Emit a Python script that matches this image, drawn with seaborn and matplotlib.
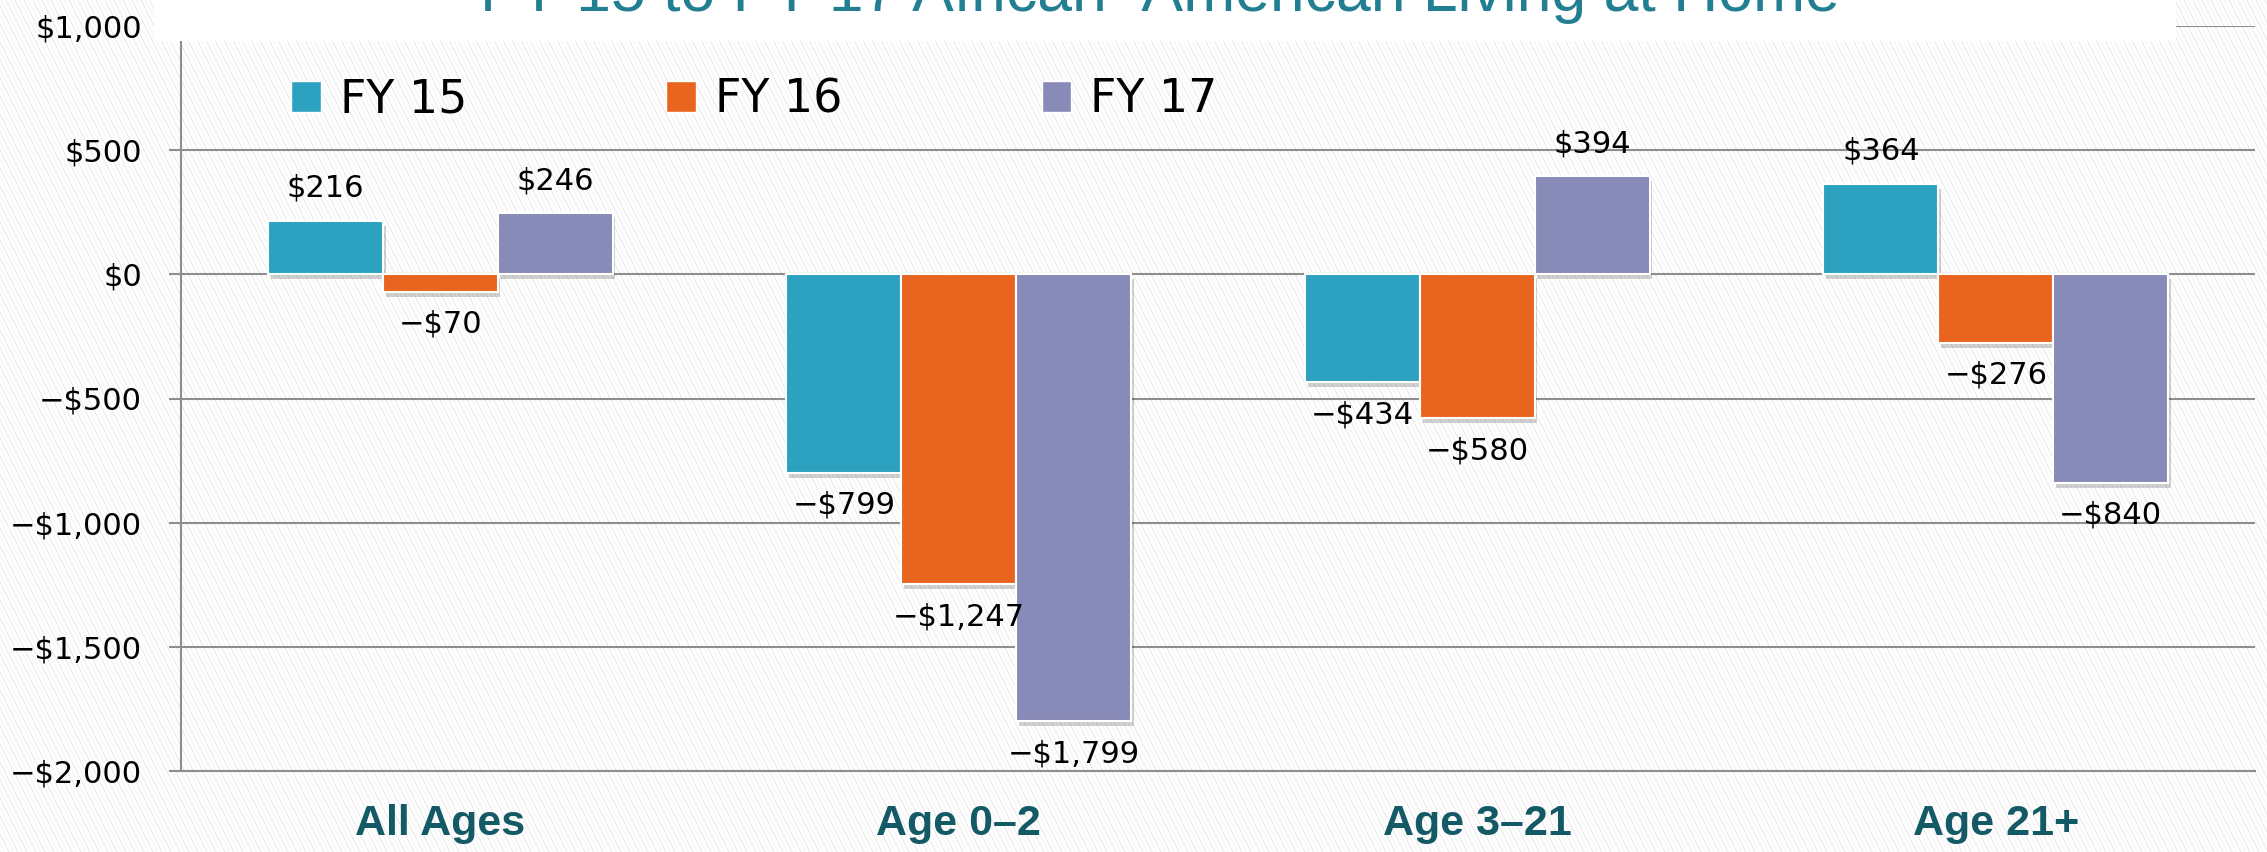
import matplotlib
matplotlib.use("Agg")
import numpy as np
import pandas as pd
import matplotlib.pyplot as plt
import seaborn as sns
from matplotlib import patheffects
from matplotlib.patches import Rectangle, Patch
from matplotlib.collections import LineCollection
from matplotlib.ticker import FuncFormatter

# data
categories = ['All Ages', 'Age 0–2', 'Age 3–21', 'Age 21+']
years = ['FY 15', 'FY 16', 'FY 17']
fy15 = [216, -799, -434, 364]
fy16 = [-70, -1247, -580, -276]
fy17 = [246, -1799, 394, -840]
y_ticks = [1000, 500, 0, -500, -1000, -1500, -2000]
title = 'FY 15 to FY 17 African- American Living at Home'

colors = ['#2CA2C0', '#E9651F', '#888AB7']

df = pd.DataFrame({
    'category': categories * 3,
    'year': [y for y in years for _ in categories],
    'value': fy15 + fy16 + fy17,
})


def money(v):
    if v < 0:
        return f'−${abs(v):,.0f}'
    return f'${v:,.0f}'


sns.set_style('white')
plt.rcParams['font.family'] = ['DejaVu Sans']

W, H = 2267, 852
fig = plt.figure(figsize=(W / 100, H / 100), dpi=100)
fig.patch.set_facecolor('white')

# faint diagonal hatch background
bg = fig.add_axes([0, 0, 1, 1], zorder=0)
bg.set_xlim(0, W)
bg.set_ylim(0, H)
bg.axis('off')
starts = np.arange(-H * 0.5, W + 10, 9)
bg.add_collection(LineCollection([[(x, H), (x + 0.5 * H, 0)] for x in starts],
                                 colors='#E8E8E8', linewidths=0.7))
bg.add_collection(LineCollection([[(x + 4.5, H), (x + 4.5 + 0.5 * H, 0)] for x in starts],
                                 colors='#F4F4F4', linewidths=0.7))

# main chart
ax = fig.add_axes([181 / W, 1 - 771 / H, 2074 / W, 745 / H], zorder=1)
ax.patch.set_alpha(0)
sns.barplot(data=df, x='category', y='value', hue='year', palette=colors,
            saturation=1, width=0.665, gap=0, errorbar=None, edgecolor='white',
            linewidth=1.5, legend=False, ax=ax, zorder=3)

for cont in ax.containers:
    for bar in cont:
        bar.set_path_effects([
            patheffects.SimplePatchShadow(offset=(2, -3.5), shadow_rgbFace='black', alpha=0.18),
            patheffects.Normal()])
    ax.bar_label(cont, labels=[money(v) for v in cont.datavalues], padding=13,
                 fontsize=22, color='black')

ax.set_xlim(-0.5, 3.5)
ax.set_ylim(-2000, 1000)
ax.set_yticks(y_ticks)
ax.yaxis.set_major_formatter(FuncFormatter(lambda v, p: money(v)))
ax.set_axisbelow(True)
ax.yaxis.grid(True, color='#8E8E8E', linewidth=1.5)
ax.xaxis.grid(False)
for s in ['top', 'right']:
    ax.spines[s].set_visible(False)
for s in ['left', 'bottom']:
    ax.spines[s].set_color('#8E8E8E')
    ax.spines[s].set_linewidth(1.5)
ax.tick_params(axis='y', left=True, length=9, width=1.5, color='#8E8E8E',
               pad=19, labelsize=22, labelcolor='black')
ax.tick_params(axis='x', bottom=False, length=0, pad=24)
for lbl in ax.get_xticklabels():
    lbl.set_fontfamily(['Liberation Sans', 'DejaVu Sans'])
    lbl.set_fontweight('bold')
    lbl.set_fontsize(31)
    lbl.set_color('#145A66')
ax.set_xlabel('')
ax.set_ylabel('')

handles = [Patch(facecolor=c, edgecolor='white') for c in colors]
ax.legend(handles, years, loc='center left', bbox_to_anchor=(291 / W, 1 - 100 / H),
          bbox_transform=fig.transFigure, ncol=3, frameon=False, fontsize=33,
          labelcolor='black', handlelength=0.65, handleheight=0.65,
          handletextpad=0.41, columnspacing=4.35, borderpad=0, borderaxespad=0)

# white title band, title mostly cut off at the top edge as in the source
fig.add_artist(Rectangle((154 / W, 1 - 41 / H), (2176 - 154) / W, 41 / H,
                         transform=fig.transFigure, facecolor='white',
                         edgecolor='none', zorder=5))
fig.text(1160 / W, 1 - 11 / H, title, ha='center', va='baseline', fontsize=45,
         color='#227E91', family=['Liberation Sans', 'DejaVu Sans'], zorder=6)

fig.savefig('out.png', dpi=100)
